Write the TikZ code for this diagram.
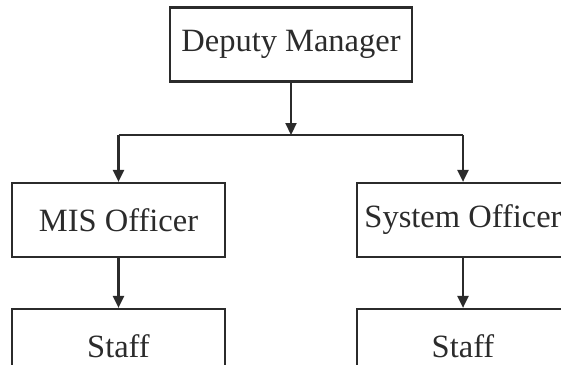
\documentclass[tikz,border=0pt]{standalone}
\usepackage{fontspec}
\setmainfont{Liberation Serif}
\usetikzlibrary{arrows.meta}
\definecolor{ink}{HTML}{2B2B2B}
\tikzset{
  unitbox/.style={draw=ink, line width=2.2pt, text=ink, inner sep=0pt,
    minimum height=74pt, font=\fontsize{32.5}{38}\selectfont},
  arr/.style={draw=ink, line width=2.2pt, -{Triangle[length=12pt,width=11pt]}},
  bar/.style={draw=ink, line width=2.2pt}
}
\begin{document}
\begin{tikzpicture}[x=1pt,y=-1pt]
\useasboundingbox (0,0) rectangle (561,364);
\clip (0,0) rectangle (561,364);

\node[unitbox, minimum width=242pt] (dm) at (291,44.5) {Deputy Manager};
\node[unitbox, minimum width=213pt] (mis) at (118.5,220) {MIS Officer};
\node[unitbox, minimum width=212pt] (sys) at (463,220) {System Officer};
\node[unitbox, minimum width=213pt] (staffa) at (118.5,346) {Staff};
\node[unitbox, minimum width=212pt] (staffb) at (463,346) {Staff};
\coordinate (j) at (291,135);

\draw[arr] (dm) -- (j);
\draw[bar] (mis |- j) -- (sys |- j);
\draw[arr] (mis |- j) -- (mis);
\draw[arr] (sys |- j) -- (sys);
\draw[arr] (mis) -- (staffa);
\draw[arr] (sys) -- (staffb);
\end{tikzpicture}
\end{document}
